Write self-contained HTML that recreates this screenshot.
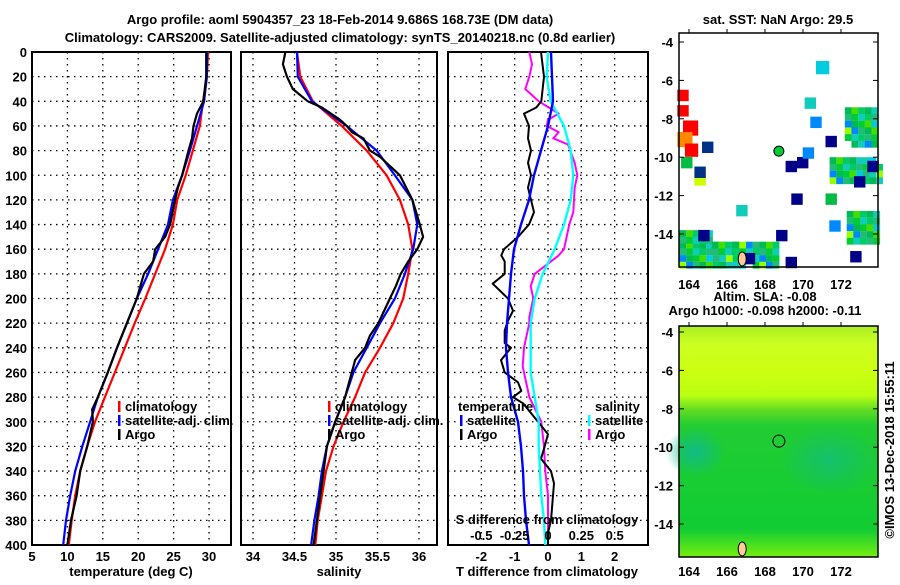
<!DOCTYPE html>
<html><head><meta charset="utf-8"><style>
body{margin:0;background:#fff;}
svg text{font-family:"Liberation Sans",sans-serif;font-weight:bold;font-size:13px;fill:#000;}
</style></head><body>
<svg id="c" width="900" height="580" xmlns="http://www.w3.org/2000/svg">
<text x="340" y="24" text-anchor="middle" font-size="14">Argo profile: aoml 5904357_23 18-Feb-2014 9.686S 168.73E (DM data)</text>
<text x="340" y="42" text-anchor="middle" font-size="14">Climatology: CARS2009. Satellite-adjusted climatology: synTS_20140218.nc (0.8d earlier)</text>
</svg>
<script>
// ---- data ----
const depthTicks=[0,20,40,60,80,100,120,140,160,180,200,220,240,260,280,300,320,340,360,380,400];
const tempTicks=[5,10,15,20,25,30];
const salTicks=[34,34.5,35,35.5,36];
const tdiffTicks=[-2,-1,0,1,2];
const sdiffTicks=[-0.5,-0.25,0,0.25,0.5];
const sdiffTickLabels=["-0.5","-0.25","0","0.25","0.5"];
const dStd=[0,20,40,60,80,100,120,140,160,180,200,220,240,260,280,300,320,340,360,380,400];
const tClim=[29.85,29.7,29.15,28.7,27.7,26.7,25.5,24.9,23.8,22.4,21.0,19.5,18.1,16.7,15.3,13.9,12.8,11.8,11.1,10.6,10.2];
const tSat=[29.7,29.7,29.3,28.3,27.3,26.2,24.9,24.2,22.8,21.4,19.8,18.4,17.0,15.7,14.3,13.2,12.1,11.1,10.4,9.8,9.4];
const dArgoT=[0,20,40,50,60,70,80,100,110,120,140,150,160,170,180,200,220,240,260,280,290,300,320,340,360,380,400];
const tArgo=[29.6,29.6,29.2,28.3,27.8,27.6,27.1,26.2,25.6,25.2,24.5,23.8,22.4,22.1,20.8,19.8,18.4,17.0,15.7,14.3,13.5,13.6,12.8,11.8,11.3,10.5,10.0];
const sClim=[34.53,34.57,34.72,35.07,35.37,35.61,35.77,35.87,35.92,35.87,35.81,35.69,35.53,35.35,35.23,35.09,34.97,34.88,34.83,34.78,34.75];
const sSat=[34.53,34.54,34.71,35.13,35.49,35.71,35.92,35.98,35.93,35.83,35.71,35.53,35.37,35.21,35.11,34.99,34.89,34.83,34.79,34.74,34.70];
const dArgoS=[0,10,20,30,40,45,55,60,65,70,80,85,100,120,140,150,160,170,180,190,200,220,230,240,250,260,280,300,320,340,360,380,400];
const sArgo=[34.39,34.36,34.41,34.48,34.66,34.83,35.05,35.13,35.19,35.33,35.41,35.53,35.77,35.92,36.01,36.05,35.98,35.87,35.78,35.72,35.65,35.51,35.41,35.35,35.23,35.19,35.11,34.99,34.89,34.85,34.81,34.77,34.73];
const dDiff=[0,20,40,60,80,100,120,140,160,180,200,220,240,260,280,300,320,340,360,380,400];
const tDiffSat=[0.09,0.12,0.15,0,-0.21,-0.42,-0.57,-0.81,-1.02,-1.11,-1.17,-1.23,-1.26,-1.2,-1.11,-0.9,-0.81,-0.75,-0.72,-0.66,-0.57];
const sDiffSat=[0,-0.01,0.02,0.12,0.17,0.19,0.17,0.12,0.05,-0.04,-0.1,-0.13,-0.13,-0.13,-0.1,-0.07,-0.07,-0.06,-0.05,-0.03,-0.02];
const dTArgoDiff=[0,20,40,45,50,60,70,80,90,100,110,120,130,140,150,160,165,170,180,188,200,210,218,226,236,240,250,260,268,275,280,285,290,300,310,316,320,330,340,350,360,370,380,390,400];
const tDiffArgo=[-0.21,-0.12,-0.2,-0.35,-0.72,-0.57,-0.6,-0.51,-0.6,-0.51,-0.6,-0.51,-0.42,-0.57,-0.9,-1.32,-1.4,-1.3,-1.3,-1.66,-1.2,-1.05,-1.2,-1.3,-1.3,-1.11,-1.41,-1.3,-0.9,-0.8,-1.05,-0.75,-0.6,-0.3,0,-0.06,-0.1,-0.21,0.09,0.18,0.15,0.12,0.09,0,0];
const dSArgoDiff=[0,10,20,30,40,50,55,60,65,70,75,90,100,110,130,140,160,165,180,190,200,215,220,235,240,255,265,275,280,300,320,340,360,380,400];
const sDiffArgo=[-0.14,-0.12,-0.14,-0.17,-0.07,0.08,0,-0.01,0.08,0.04,0.15,0.2,0.22,0.2,0.19,0.16,0.12,0.08,-0.1,-0.13,-0.11,-0.14,-0.14,-0.17,-0.18,-0.19,-0.17,-0.15,-0.14,-0.05,-0.03,-0.02,0,0,0];
// ---- drawing ----
const svg=document.getElementById('c');const NS='http://www.w3.org/2000/svg';
function mk(t,a,p){const e=document.createElementNS(NS,t);for(const k in a)e.setAttribute(k,a[k]);(p||svg).appendChild(e);return e;}
const Y0=52,Y1=545;const yD=d=>Y0+(d/400)*(Y1-Y0);
function lin(d0,d1,r0,r1){return v=>r0+(v-d0)/(d1-d0)*(r1-r0);}
function panel(name,x0,x1,xs,ticks,labels,showY){
  const g=mk('g',{});
  
  
  depthTicks.forEach(d=>{if(d>0&&d<400){const l=mk('line',{x1:x0,x2:x1,y1:yD(d),y2:yD(d),stroke:'#000','stroke-dasharray':'1.5,4.5','stroke-width':1.3},g);}
    if(showY){const t=mk('text',{x:27,y:yD(d)+5,'text-anchor':'end'},g);t.textContent=d;}});
  ticks.forEach((v,i)=>{const x=xs(v);if(x>x0+2&&x<x1-2){const l=mk('line',{x1:x,x2:x,y1:Y0,y2:Y1,stroke:'#000','stroke-dasharray':'1.5,4.5','stroke-width':1.3},g);}
    const t=mk('text',{x:x,y:561,'text-anchor':'middle'},g);t.textContent=labels[i];});
  const r=mk('rect',{x:x0,y:Y0,width:x1-x0,height:Y1-Y0,fill:'none',stroke:'#000','stroke-width':2},g);
  
  return g;}
function curve(g,name,xs,vals,ds,color,w){const pts=vals.map((v,i)=>xs(v).toFixed(1)+','+yD(ds[i]).toFixed(1)).join(' ');
  const p=mk('polyline',{points:pts,fill:'none',stroke:color,'stroke-width':w||2.2,'stroke-linejoin':'round'},g);
  }
function txt(s,x,y,name,anchor,size,g){const t=mk('text',{x:x,y:y,'text-anchor':anchor||'start'},g);if(size)t.setAttribute('font-size',size);t.textContent=s;return t;}
function legItem(g,x,y,color,label,name){const b=mk('rect',{x:x,y:y-10,width:2.5,height:11,fill:color},g);txt(label,x+7,y,name,'start',null,g);}
// panel 1
const xT=lin(5,33.1,32,231);
const g1=panel('temperature-panel',32,231,xT,tempTicks,tempTicks.map(String),true);
curve(g1,'temp-climatology-line',xT,tClim,dStd,'#f00');
curve(g1,'temp-satellite-line',xT,tSat,dStd,'#00f');
curve(g1,'temp-argo-line',xT,tArgo,dArgoT,'#000');
legItem(g1,118,411,'#f00','climatology','legend-climatology');
legItem(g1,118,425,'#00f','satellite-adj. clim.','legend-satellite-adj');
legItem(g1,118,439,'#000','Argo','legend-argo');
txt('temperature (deg C)',131,576,'x-axis-title-temperature','middle',null,g1);
// panel 2
const xS=lin(34,36,253,419);
const g2=panel('salinity-panel',241,437,xS,salTicks,salTicks.map(String),false);
curve(g2,'sal-climatology-line',xS,sClim,dStd,'#f00');
curve(g2,'sal-satellite-line',xS,sSat,dStd,'#00f');
curve(g2,'sal-argo-line',xS,sArgo,dArgoS,'#000');
legItem(g2,328,411,'#f00','climatology','legend-climatology-2');
legItem(g2,328,425,'#00f','satellite-adj. clim.','legend-satellite-adj-2');
legItem(g2,328,439,'#000','Argo','legend-argo-2');
txt('salinity',339,576,'x-axis-title-salinity','middle',null,g2);
// panel 3
const xTd=lin(-3,3,448,648);const xSd=lin(-0.75,0.75,448,648);
const g3=panel('difference-panel',448,648,xTd,tdiffTicks,tdiffTicks.map(String),false);
curve(g3,'sdiff-argo-line',xSd,sDiffArgo,dSArgoDiff,'#f0f',2);
curve(g3,'tdiff-argo-line',xTd,tDiffArgo,dTArgoDiff,'#000',2);
curve(g3,'sdiff-satellite-line',xSd,sDiffSat,dDiff,'#0ff',2.4);
curve(g3,'tdiff-satellite-line',xTd,tDiffSat,dDiff,'#00f',2.4);
txt('temperature',458,411,'legend-temperature-heading','start',null,g3);
legItem(g3,460,425,'#00f','satellite','legend-temp-satellite');
legItem(g3,460,439,'#000','Argo','legend-temp-argo');
txt('salinity',595,411,'legend-salinity-heading','start',null,g3);
legItem(g3,588,425,'#0ff','satellite','legend-sal-satellite');
legItem(g3,588,439,'#f0f','Argo','legend-sal-argo');
txt('S difference from climatology',547,524,'s-diff-axis-title','middle',null,g3);
sdiffTicks.forEach((v,i)=>{txt(sdiffTickLabels[i],xSd(v),540,'s-diff-tick-label','middle',null,g3);});
txt('T difference from climatology',547,576,'x-axis-title-tdiff','middle',null,g3);
// maps
const lonX=lin(164,172,689,841);
function map(name,latTop){
  const g=mk('g',{});
  const latY=lin(-4,-14,latTop,latTop+192);
  return {g,latY};}
const m1=map('sst-map',42);
const pal=['#0b5','#1cb','#08f','#0b5','#0c3','#4d0','#0cd','#2b7','#1cb','#9f0','#0c6','#05c'];
const clus=[[172.2,-7.4,173.9,-9.2],[171.4,-10,173.9,-11.2],[172.3,-12.8,173.9,-14.3],[163.5,-14.4,168.5,-15.7],[163.5,-13.8,165,-14.4],[165.2,-14.4,166.5,-14.9]];
clus.forEach(c=>{let i=0;for(let lo=c[0];lo<c[2];lo+=0.35,i++){let j=0;for(let la=c[1];la>c[3];la-=0.35,j++){const k=(i*5+j*7+((i*j)%3)*4)%12;if(k===11&&(i+j)%2)continue;
  const r=mk('rect',{x:lonX(lo),y:m1.latY(la),width:6.8,height:6.8,fill:pal[k]},m1.g);}}});
const sq=[[171,-5.3,'#0cd',0.7],[163.7,-6.8,'#f00',0.6],[163.7,-7.6,'#f00',0.6],[164,-8.4,'#f00',0.8],[163.7,-9.0,'#f80',0.8],[164.1,-9.6,'#f00',0.7],[165,-9.5,'#038',0.6],[163.9,-10.3,'#0b4',0.6],[164.6,-11.2,'#cf0',0.6],[164.6,-10.8,'#038',0.6],[166.8,-12.8,'#1cb',0.6],[169.4,-10.5,'#008',0.6],[170,-10.3,'#008',0.6],[169.7,-12.2,'#008',0.6],[168.9,-14.1,'#008',0.6],[169.4,-15.5,'#008',0.6],[171.5,-9.2,'#008',0.6],[171.5,-12.2,'#0b4',0.6],[171.7,-13.6,'#08f',0.6],[170.3,-9.8,'#08f',0.6],[170.7,-8.2,'#08f',0.6],[170.4,-7.2,'#1cb',0.6],[172.8,-15.2,'#008',0.6],[173.7,-10.5,'#008',0.6],[173,-11.3,'#008',0.6],[164.8,-14.1,'#008',0.6],[167.2,-15.3,'#008',0.6]];
sq.forEach(s=>{const r=mk('rect',{x:lonX(s[0])-6,y:m1.latY(s[1])-6,width:s[3]*19,height:s[3]*19,fill:s[2]},m1.g);});
const pos=mk('circle',{cx:lonX(168.73),cy:m1.latY(-9.686),r:5,fill:'#0c3',stroke:'#000','stroke-width':1},m1.g);
// bottom map
const m2=map('sla-map',332);
const defs=mk('defs',{});
defs.innerHTML='<linearGradient id="slag" gradientUnits="userSpaceOnUse" x1="0" y1="326" x2="0" y2="557"><stop offset="0" stop-color="#ae2"/><stop offset="0.08" stop-color="#cf2"/><stop offset="0.19" stop-color="#cf1"/><stop offset="0.3" stop-color="#bf1"/><stop offset="0.36" stop-color="#6d2"/><stop offset="0.43" stop-color="#2c3"/><stop offset="0.88" stop-color="#1c3"/><stop offset="1" stop-color="#7e1"/></linearGradient><radialGradient id="blob"><stop offset="0" stop-color="#1b8"/><stop offset="1" stop-color="#1b8" stop-opacity="0"/></radialGradient>';
const bg=mk('rect',{x:679,y:326,width:199,height:231,fill:'url(#slag)'},m2.g);
const b1=mk('ellipse',{cx:695,cy:452,rx:30,ry:25,fill:'url(#blob)'},m2.g);
const b2=mk('ellipse',{cx:830,cy:460,rx:50,ry:35,fill:'url(#blob)',opacity:0.7},m2.g);
const pos2=mk('circle',{cx:lonX(168.73),cy:m2.latY(-9.686),r:6,fill:'none',stroke:'#000','stroke-width':1},m2.g);
[[m1,166.8,-15.3],[m2,166.8,-15.3]].forEach(a=>{const e=mk('ellipse',{cx:lonX(a[1]),cy:a[0].latY(a[2]),rx:4,ry:7,fill:'#fc9',stroke:'#000'},a[0].g);});
const latTicks=[-4,-6,-8,-10,-12,-14];const lonTicks=[164,166,168,170,172];
[[m1,33,267,289],[m2,326,557,576]].forEach(a=>{const m=a[0];
  const f=mk('rect',{x:679,y:a[1],width:199,height:a[2]-a[1],fill:'none',stroke:'#000','stroke-width':1.5},m.g);
  latTicks.forEach(v=>{const y=m.latY(v);txt(String(v),673,y+5,'lat-tick-label','end',null,m.g);mk('line',{x1:679,x2:684,y1:y,y2:y,stroke:'#000'},m.g);mk('line',{x1:873,x2:878,y1:y,y2:y,stroke:'#000'},m.g);});
  lonTicks.forEach(v=>{const x=lonX(v);txt(String(v),x,a[3],'lon-tick-label','middle',null,m.g);mk('line',{x1:x,x2:x,y1:a[1]-4,y2:a[1],stroke:'#000'},m.g);});});
txt('sat. SST: NaN Argo: 29.5',778,24,'sst-map-title','middle');
txt('Altim. SLA: -0.08',765,301,'sla-map-title-1','middle');
txt('Argo h1000: -0.098 h2000: -0.11',765,315,'sla-map-title-2','middle');
const ts=txt('©IMOS 13-Dec-2018 15:55:11',0,0,'timestamp-credit','middle',12);
ts.setAttribute('transform','translate(894,450) rotate(-90)');ts.setAttribute('font-weight','normal');
</script>
</body></html>
